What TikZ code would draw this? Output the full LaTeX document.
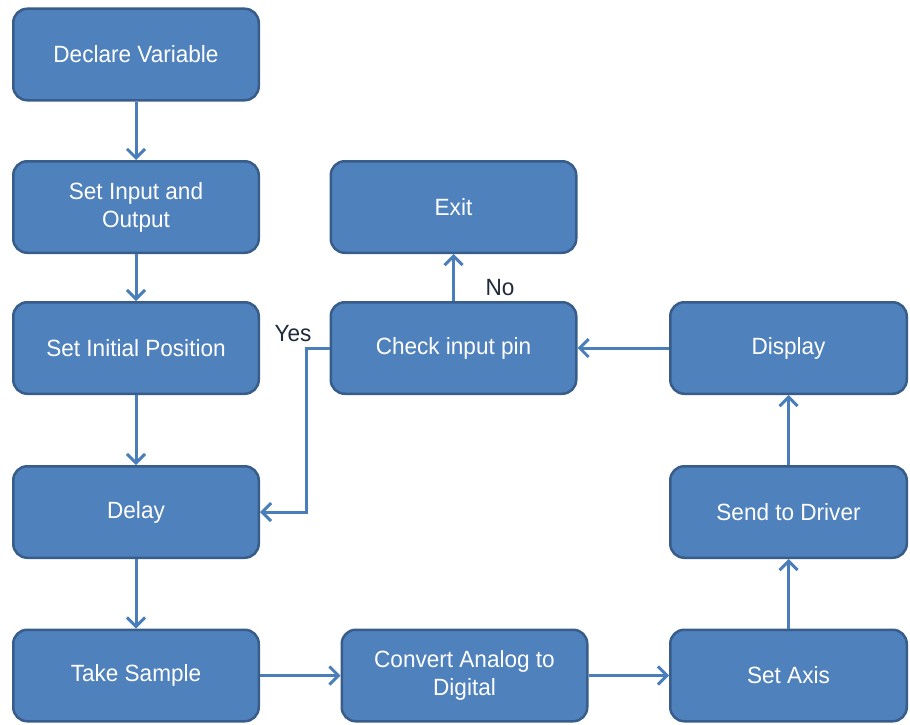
\documentclass[tikz,border=0pt]{standalone}
\usepackage{fontspec}
\setmainfont[FakeStretch=0.96]{Liberation Sans}
\usetikzlibrary{arrows.meta}
\definecolor{boxfill}{HTML}{4F81BD}
\definecolor{boxedge}{HTML}{385D8A}
\definecolor{conn}{HTML}{4A7EBB}
\definecolor{labeltext}{HTML}{1F2A3A}
\begin{document}
\begin{tikzpicture}[x=1pt,y=-1pt,
  box/.style={draw=boxedge, fill=boxfill, line width=2.5pt, rounded corners=14pt,
    minimum width=#1, minimum height=91.5pt, text=white, align=center,
    font=\fontsize{23.5}{28}\selectfont, inner sep=0pt},
  box/.default=245.5pt,
  flow/.style={draw=conn, line width=3pt, -{Straight Barb[length=9pt,width=18pt,line width=3pt]}},
  lbl/.style={text=labeltext, font=\fontsize{23.5}{26}\selectfont, inner sep=0pt}]
\useasboundingbox (0,0) rectangle (910,725);
\node[box] (declare) at (136,54.5) {Declare Variable};
\node[box] (setio) at (136,207) {Set Input and\\Output};
\node[box] (initpos) at (136,348) {Set Initial Position};
\node[box] (delay) at (136,512) {Delay};
\node[box] (sample) at (136,675.5) {Take Sample};
\node[box] (exit) at (453.5,207) {Exit};
\node[box] (check) at (453.5,348) {Check input pin};
\node[box] (convert) at (464.5,675.5) {Convert Analog to\\Digital};
\node[box=236.5pt] (display) at (788.5,348) {Display};
\node[box=236.5pt] (driver) at (788.5,512) {Send to Driver};
\node[box=236.5pt] (axis) at (788.5,675.5) {Set Axis};
\coordinate (yesturn) at (306,348);
\draw[flow] (declare) -- (setio);
\draw[flow] (setio) -- (initpos);
\draw[flow] (initpos) -- (delay);
\draw[flow] (delay) -- (sample);
\draw[flow] (sample) -- (convert);
\draw[flow] (convert) -- (axis);
\draw[flow] (axis) -- (driver);
\draw[flow] (driver) -- (display);
\draw[flow] (display) -- (check);
\draw[flow] (check) -- (exit);
\draw[flow] (check.west) -- (yesturn) |- (delay.east);
\node[lbl] (yes) at (293,334) {Yes};
\node[lbl] (no) at (500,288) {No};
\end{tikzpicture}
\end{document}
